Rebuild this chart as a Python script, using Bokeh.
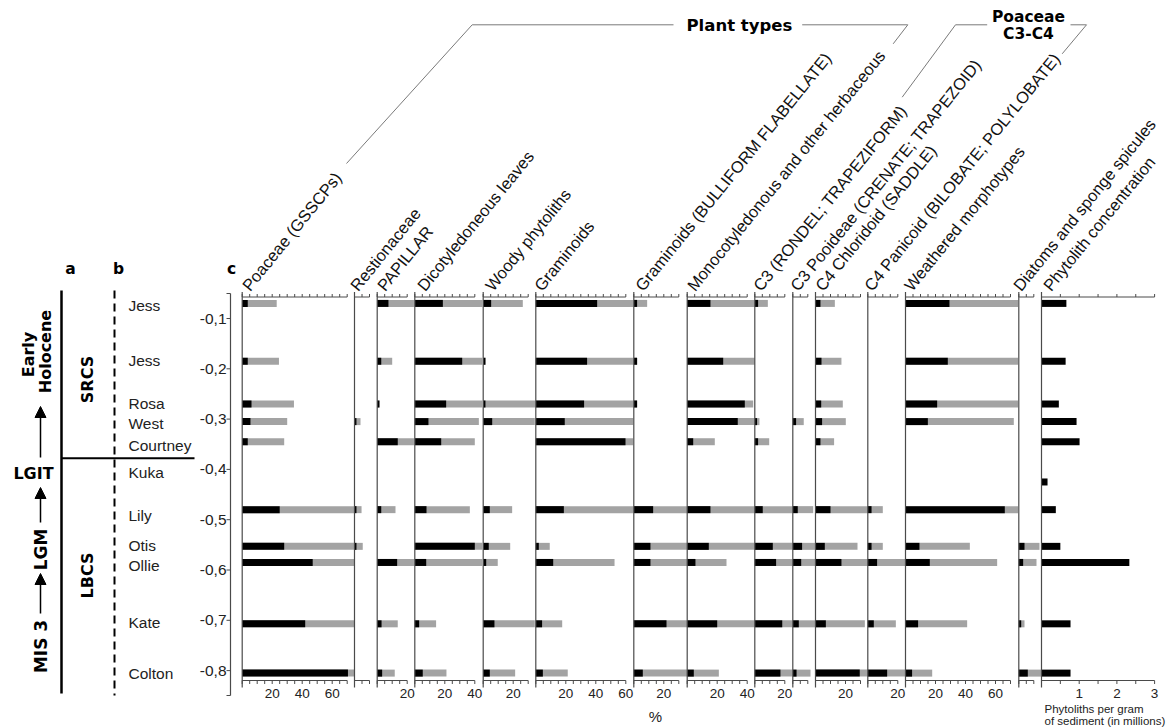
import math
import numpy as np
from bokeh.plotting import figure
from bokeh.models import Range1d, ColumnDataSource, Arrow, NormalHead
from bokeh.core.properties import value
from bokeh.embed import file_html
from bokeh.resources import INLINE

# ---------------- data ----------------
samples = ["Jess", "Jess", "Rosa", "West", "Courtney", "Kuka", "Lily", "Otis", "Ollie", "Kate", "Colton"]
depths = [-0.07, -0.185, -0.27, -0.305, -0.345, -0.425, -0.48, -0.553, -0.585, -0.707, -0.805]

panel_names = ["Poaceae (GSSCPs)", "Restionaceae", "PAPILLAR", "Dicotyledoneous leaves",
               "Woody phytoliths", "Graminoids", "Graminoids (BULLIFORM FLABELLATE)",
               "Monocotyledonous and other herbaceous", "C3 (RONDEL; TRAPEZIFORM)",
               "C3 Pooideae (CRENATE; TRAPEZOID)", "C4 Chloridoid (SADDLE)",
               "C4 Panicoid (BILOBATE; POLYLOBATE)", "Weathered morphotypes",
               "Diatoms and sponge spicules", "Phytolith concentration"]

# percentages (black) and exaggerated curve (grey)
poaceae_b = [3.7, 3.7, 6.2, 5.5, 3.7, 0, 25, 28, 47, 42, 70.5]
poaceae_g = [23, 24.5, 34.5, 30, 28, 0, 75, 75, 75, 75, 75]
restio_b = [0, 0, 0, 1.3, 0, 0, 1.3, 1.3, 0, 0, 0]
restio_g = [0, 0, 0, 4, 0, 0, 4.7, 5.5, 0, 0, 0]
papillar_b = [7.5, 2.7, 1.5, 0, 13.7, 0, 2.7, 0, 13.3, 2.9, 3.3]
papillar_g = [24.5, 10, 1.5, 0, 24.5, 0, 12.2, 0, 24.5, 13.7, 11.7]
dicot_b = [18.7, 31.6, 20.9, 9.1, 17.6, 0, 7.8, 40, 7.6, 2.9, 5.3]
dicot_g = [45, 45, 45, 42.7, 40, 0, 36.7, 45, 45, 14.2, 21.1]
woody_b = [5.3, 1.5, 1.5, 6, 0, 0, 4.4, 3.7, 2, 7.5, 4.4]
woody_g = [26.4, 1.5, 34.7, 34.4, 0, 0, 19.3, 18, 9.7, 34.4, 21.3]
gram_b = [40.9, 34.2, 32.2, 19.3, 59.8, 0, 18.7, 2, 11.6, 4.2, 4.7]
gram_g = [65, 65, 65, 65, 64.9, 0, 65, 9.3, 52.5, 17.6, 21.3]
bulli_b = [2.2, 2.2, 2.2, 0, 0, 0, 12.9, 11.1, 11.1, 21.8, 6]
bulli_g = [8.9, 2.2, 2.2, 0, 0, 0, 35.5, 35.5, 35.5, 35.5, 35.5]
mono_b = [15.5, 24, 38.4, 33.7, 4, 0, 15.5, 14.4, 5.5, 20, 4.4]
mono_g = [45, 45, 44, 45, 18.4, 0, 45, 45, 26.2, 45, 21.1]
c3r_b = [2.2, 0, 0, 1.5, 2.2, 0, 5.3, 12, 14.2, 18.3, 17.1]
c3r_g = [8.7, 0, 0, 3.1, 9.6, 0, 25, 25, 25, 25, 25]
c3p_b = [0, 0, 0, 2.2, 0, 0, 3.3, 6.2, 5.6, 4, 2.5]
c3p_g = [0, 0, 0, 7.3, 0, 0, 13.6, 15, 15, 15, 11.8]
c4c_b = [3.3, 4, 3.8, 4.4, 3.3, 0, 10, 6.2, 17.3, 6.9, 29.5]
c4c_g = [12.9, 17.3, 18.2, 20.2, 12.4, 0, 35, 28, 35, 32.9, 35]
c4p_b = [0, 0, 0, 0, 0, 0, 2.5, 2.5, 6.2, 4, 12.9]
c4p_g = [0, 0, 0, 0, 0, 0, 10, 10, 25, 18.7, 25]
weath_b = [29.3, 28.2, 21.1, 14.9, 0, 0, 66.2, 9.3, 16.2, 8.4, 4.4]
weath_g = [75, 75, 75, 72.2, 0, 0, 75, 42.9, 61.1, 41.1, 17.8]
diat_b = [0, 0, 0, 0, 0, 0, 0, 3.8, 2.9, 1.6, 6]
diat_g = [0, 0, 0, 0, 0, 0, 0, 13.8, 11.8, 3.8, 15]
concentration = [0.66, 0.64, 0.46, 0.93, 1.01, 0.16, 0.38, 0.5, 2.33, 0.77, 0.77]

black_series = [poaceae_b, restio_b, papillar_b, dicot_b, woody_b, gram_b, bulli_b, mono_b,
                c3r_b, c3p_b, c4c_b, c4p_b, weath_b, diat_b, concentration]
grey_series = [poaceae_g, restio_g, papillar_g, dicot_g, woody_g, gram_g, bulli_g, mono_g,
               c3r_g, c3p_g, c4c_g, c4p_g, weath_g, diat_g, None]

tick_max = [70, 10, 20, 40, 30, 60, 30, 40, 20, 10, 30, 20, 70, 10, 3]
tick_step = [5] * 14 + [0.5]
tick_labels = [[20, 40, 60], [], [20], [20, 40], [20], [20, 40, 60], [20], [20, 40], [20], [],
               [20], [20], [20, 40, 60], [], [1, 2, 3]]
depth_ticks = [-0.1, -0.2, -0.3, -0.4, -0.5, -0.6, -0.7, -0.8]

# ---------------- layout (page pixels) ----------------
panel_left = [241.7, 354, 376.7, 414.3, 482.7, 535.3, 633.3, 686.7, 754.3, 792.3, 815, 867.3, 905, 1018.3, 1041]
px_per_unit = [1.5] * 14 + [37.7]
title_x = [245, 353, 380, 420, 488, 537, 638, 690, 756, 793, 818, 867, 907, 1016, 1046]
sample_label_y = [305, 360, 403, 423, 445, 472, 515, 545, 565, 622, 673]

X0, X1, Y0, Y1 = 0, 1166, 0, 727
DY0, DK = 267.7, 503.0          # page y = DY0 - DK*depth
TOP_AX, BOT_AX = 296.5, 680
GREY = "#a3a3a3"
AXC = "#4a4a4a"
ARIAL = value("Liberation Sans")
VERD = value("DejaVu Sans")

p = figure(width=X1 - X0, height=Y1 - Y0, x_range=Range1d(X0, X1), y_range=Range1d(Y1, Y0),
           x_axis_type=None, y_axis_type=None, toolbar_location=None, output_backend="svg",
           min_border=0, outline_line_color=None)
p.background_fill_color = "white"
p.extra_y_ranges = {"depth": Range1d((DY0 - Y1) / DK, (DY0 - Y0) / DK)}
BAR_H = 7.0 / DK

for i, name in enumerate(panel_names):
    L, s = panel_left[i], px_per_unit[i]
    rn = f"p{i}"
    p.extra_x_ranges[rn] = Range1d((X0 - L) / s, (X1 - L) / s)
    # bars
    if grey_series[i] is not None:
        src_g = ColumnDataSource(dict(y=depths, r=grey_series[i]))
        p.hbar(y="y", left=0, right="r", height=BAR_H, source=src_g, fill_color=GREY,
               line_color=None, x_range_name=rn, y_range_name="depth")
    src_b = ColumnDataSource(dict(y=depths, r=black_series[i]))
    p.hbar(y="y", left=0, right="r", height=BAR_H, source=src_b, fill_color="black",
           line_color=None, x_range_name=rn, y_range_name="depth")
    # axes
    ticks = list(np.arange(0, tick_max[i] + tick_step[i] / 2, tick_step[i]))
    p.segment(x0=[0], x1=[0], y0=[291.5], y1=[687], line_color=AXC, line_width=1.2, x_range_name=rn)
    p.segment(x0=[0, 0], x1=[tick_max[i]] * 2, y0=[TOP_AX, BOT_AX], y1=[TOP_AX, BOT_AX],
              line_color=AXC, line_width=1, x_range_name=rn)
    p.segment(x0=ticks, x1=ticks, y0=[TOP_AX] * len(ticks), y1=[TOP_AX - 3] * len(ticks),
              line_color=AXC, line_width=1, x_range_name=rn)
    p.segment(x0=ticks, x1=ticks, y0=[BOT_AX] * len(ticks), y1=[BOT_AX + 3.5] * len(ticks),
              line_color=AXC, line_width=1, x_range_name=rn)
    if tick_labels[i]:
        p.text(x=tick_labels[i], y=[693] * len(tick_labels[i]), text=[str(t) for t in tick_labels[i]],
               text_font=ARIAL, text_font_size="13.5px", text_align="center", text_baseline="middle",
               text_color="#222222", x_range_name=rn)

# rotated column titles
p.text(x=title_x, y=[288] * len(title_x), text=panel_names, angle=math.radians(51),
       text_font=ARIAL, text_font_size="16.5px", text_align="left", text_baseline="alphabetic",
       text_color="#111111")

# group brackets
LC = "#7a7a7a"
p.line(x=[346, 471.7, 673], y=[163, 24.3, 24.3], line_color=LC, line_width=1)
p.line(x=[801.7, 907.3, 892.7], y=[24.3, 24.3, 43.3], line_color=LC, line_width=1)
p.line(x=[986.7, 955, 901.7], y=[24.3, 24.3, 96.7], line_color=LC, line_width=1)
p.line(x=[1070, 1086, 1061.7], y=[24.3, 24.3, 53.3], line_color=LC, line_width=1)
p.text(x=[686], y=[25], text=["Plant types"], text_font=VERD, text_font_style="bold",
       text_font_size="16.5px", text_align="left", text_baseline="middle")
p.text(x=[1028, 1028], y=[16.5, 33], text=["Poaceae", "C3-C4"], text_font=VERD, text_font_style="bold",
       text_font_size="15.5px", text_align="center", text_baseline="middle")

# depth axis
p.segment(x0=[230], x1=[230], y0=[293], y1=[695], line_color=AXC, line_width=1.2)
p.segment(x0=[226, 226], x1=[230, 230], y0=[293, 695], y1=[293, 695], line_color=AXC, line_width=1.2)
p.segment(x0=[226] * len(depth_ticks), x1=[230] * len(depth_ticks), y0=depth_ticks, y1=depth_ticks,
          line_color=AXC, line_width=1, y_range_name="depth")
p.text(x=[226] * len(depth_ticks), y=depth_ticks,
       text=[f"{d:.1f}".replace(".", ",") for d in depth_ticks],
       text_font=ARIAL, text_font_size="15.5px", text_align="right", text_baseline="middle",
       text_color="#222222", y_range_name="depth")

# sample labels
p.text(x=[128] * len(samples), y=sample_label_y, text=samples, text_font=ARIAL,
       text_font_size="15.5px", text_align="left", text_baseline="middle", text_color="#222222")

# left stratigraphic columns
p.text(x=[70, 118, 231], y=[268, 268, 268], text=["a", "b", "c"], text_font=VERD,
       text_font_style="bold", text_font_size="15.5px", text_align="center", text_baseline="middle")
p.segment(x0=[61], x1=[61], y0=[290], y1=[693], line_color="black", line_width=2.5)
p.segment(x0=[114], x1=[114], y0=[290], y1=[695], line_color="black", line_width=2, line_dash="8 5")
p.segment(x0=[61], x1=[194], y0=[457.7], y1=[457.7], line_color="black", line_width=2)

vt = dict(text_font=VERD, text_font_style="bold", text_align="center",
          text_baseline="middle", angle=math.pi / 2)
p.text(x=[28, 45], y=[354, 351], text=["Early", "Holocene"], text_font_size="16px", **vt)
p.text(x=[40], y=[549], text=["LGM"], text_font_size="17px", **vt)
p.text(x=[40], y=[646], text=["MIS 3"], text_font_size="17px", **vt)
p.text(x=[87], y=[379], text=["SRCS"], text_font_size="16px", **vt)
p.text(x=[87], y=[575], text=["LBCS"], text_font_size="16px", **vt)
p.text(x=[33], y=[473], text=["LGIT"], text_font=VERD, text_font_style="bold", text_font_size="16px",
       text_align="center", text_baseline="middle")
for ys, ye in [(457, 406), (522, 487), (613, 573)]:
    p.add_layout(Arrow(end=NormalHead(size=11, fill_color="black", line_color="black"),
                       x_start=40, y_start=ys, x_end=40, y_end=ye, line_width=1.5, line_color="black"))

# bottom texts
p.text(x=[655], y=[716], text=["%"], text_font=ARIAL, text_font_size="15px", text_align="center",
       text_baseline="middle", text_color="#222222")
p.text(x=[1044, 1044], y=[708, 720], text=["Phytoliths per gram", "of sediment (in millions)"],
       text_font=ARIAL, text_font_size="11.5px", text_align="left", text_baseline="middle",
       text_color="#222222")

open("out.html", "w").write(file_html(p, INLINE))
